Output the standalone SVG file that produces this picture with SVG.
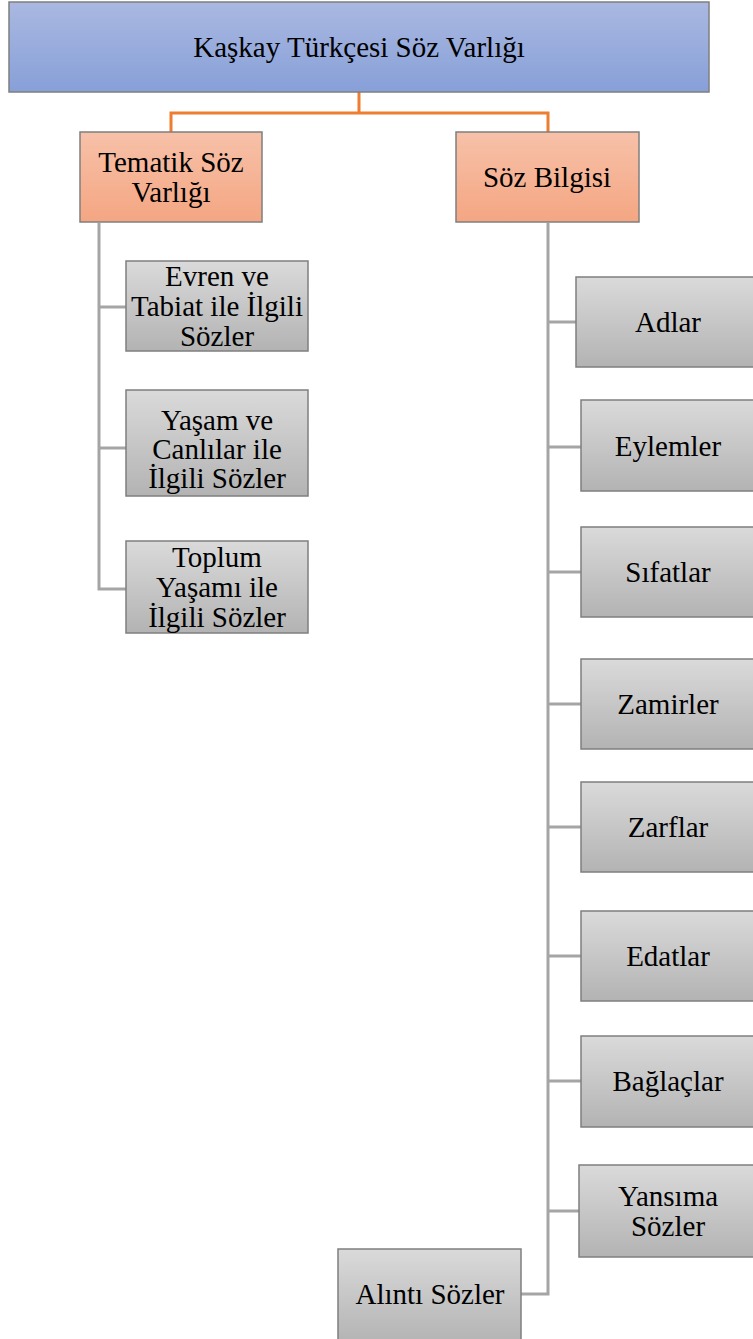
<svg xmlns="http://www.w3.org/2000/svg" width="753" height="1339" viewBox="0 0 753 1339">
<style>
text{font-family:"Liberation Serif","Times New Roman",serif;font-size:29px;fill:#000;text-anchor:middle}
.box{stroke:#7f7f7f;stroke-width:1.5}
.blue{fill:url(#gBlue)}
.org{fill:url(#gOrg)}
.gry{fill:url(#gGry)}
.lo{fill:none;stroke:#ed7d31;stroke-width:3}
.lg{fill:none;stroke:#a5a5a5;stroke-width:3}
</style>
<defs>
<linearGradient id="gBlue" x1="0" y1="0" x2="0" y2="1"><stop offset="0" stop-color="#aab8e1"/><stop offset="1" stop-color="#87a0d8"/></linearGradient>
<linearGradient id="gOrg" x1="0" y1="0" x2="0" y2="1"><stop offset="0" stop-color="#f7c1a9"/><stop offset="1" stop-color="#f4a682"/></linearGradient>
<linearGradient id="gGry" x1="0" y1="0" x2="0" y2="1"><stop offset="0" stop-color="#dadada"/><stop offset="1" stop-color="#b3b3b3"/></linearGradient>
</defs>
<rect width="753" height="1339" fill="#fff"/>
<g id="connectors">
<path class="lo" d="M359 92V113H171V132M359 113H548V132"/>
<path class="lg" d="M99 223V589H126M99 307H126M99 448H126"/>
<path class="lg" d="M548 223V1294H521M548 322H576M548 447H581M548 572H581M548 704H581M548 827H581M548 956H581M548 1081H581M548 1211H579"/>
</g>
<g id="n-root"><rect class="box blue" x="9" y="2" width="700" height="90"/><text x="359" y="57">Kaşkay Türkçesi Söz Varlığı</text></g>
<g id="n-tematik"><rect class="box org" x="80" y="132" width="182" height="90"/><text x="171" y="172">Tematik Söz</text><text x="171" y="202">Varlığı</text></g>
<g id="n-soz"><rect class="box org" x="456" y="132" width="183" height="90"/><text x="547" y="187">Söz Bilgisi</text></g>
<g id="n-evren"><rect class="box gry" x="126" y="261" width="182" height="90"/><text x="217" y="286">Evren ve</text><text x="217" y="316">Tabiat ile İlgili</text><text x="217" y="346">Sözler</text></g>
<g id="n-yasam"><rect class="box gry" x="126" y="390" width="182" height="106"/><text x="217" y="430">Yaşam ve</text><text x="217" y="459">Canlılar ile</text><text x="217" y="488">İlgili Sözler</text></g>
<g id="n-toplum"><rect class="box gry" x="126" y="541" width="182" height="92"/><text x="217" y="567">Toplum</text><text x="217" y="597">Yaşamı ile</text><text x="217" y="627">İlgili Sözler</text></g>
<g id="n-adlar"><rect class="box gry" x="576" y="277" width="180" height="90"/><text x="668" y="332">Adlar</text></g>
<g id="n-eylemler"><rect class="box gry" x="581" y="400" width="175" height="91"/><text x="668" y="456">Eylemler</text></g>
<g id="n-sifatlar"><rect class="box gry" x="581" y="527" width="175" height="90"/><text x="668" y="582">Sıfatlar</text></g>
<g id="n-zamirler"><rect class="box gry" x="581" y="659" width="175" height="90"/><text x="668" y="714">Zamirler</text></g>
<g id="n-zarflar"><rect class="box gry" x="581" y="782" width="175" height="90"/><text x="668" y="837">Zarflar</text></g>
<g id="n-edatlar"><rect class="box gry" x="581" y="911" width="175" height="90"/><text x="668" y="966">Edatlar</text></g>
<g id="n-baglaclar"><rect class="box gry" x="581" y="1036" width="175" height="91"/><text x="668" y="1091">Bağlaçlar</text></g>
<g id="n-yansima"><rect class="box gry" x="579" y="1165" width="177" height="92"/><text x="668" y="1206">Yansıma</text><text x="668" y="1236">Sözler</text></g>
<g id="n-alinti"><rect class="box gry" x="338" y="1249" width="183" height="95"/><text x="430" y="1304">Alıntı Sözler</text></g>
</svg>
